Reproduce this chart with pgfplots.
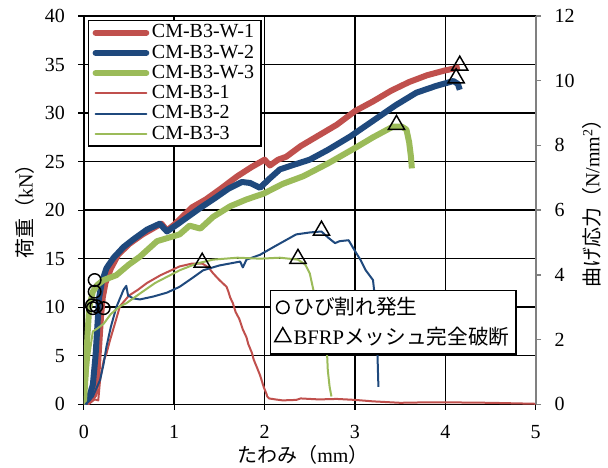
\documentclass[border=0pt]{standalone}
\usepackage{fontspec}
\setmainfont{Liberation Serif}
\newfontfamily\cjk{Noto Sans CJK JP}
\usepackage{pgfplots}
\pgfplotsset{compat=1.18}
\definecolor{cred}{HTML}{C0504D}
\definecolor{cblue}{HTML}{1F497D}
\definecolor{cgreen}{HTML}{9BBB59}
\pgfplotsset{
  common/.style={scale only axis, width=338.9pt, height=291.2pt, at={(0,0)}, anchor=south west,
    xmin=0, xmax=5, /pgf/number format/assume math mode=true},
}
\begin{document}
\fontsize{15}{18}\selectfont
\begin{tikzpicture}[font=\fontsize{15}{18}\selectfont]
\begin{axis}[common,
  ymin=0, ymax=40,
  xtick={0,1,2,3,4,5}, ytick={0,5,...,40},
  axis x line*=bottom, axis y line*=left,
  grid=major, major grid style={black, line width=1.1pt},
  axis line style={black, line width=1.1pt, -},
  tick style={black, line width=0.9pt}, tick align=outside, major tick length=4pt,
  xticklabel style={yshift=-6.5pt},
  yticklabel style={xshift=-5pt},
  every axis x label/.style={at={(axis description cs:0.485,-0.13)}, anchor=center},
  every axis y label/.style={at={(axis description cs:-0.13,0.51)}, rotate=90, anchor=center},
  xlabel={{\cjk たわみ（}mm{\cjk ）}},
  ylabel={{\cjk 荷重（}kN{\cjk ）}},
  legend style={at={(0.009,0.99)}, anchor=north west, draw=black, line width=1.1pt, fill=white,
    font=\fontsize{15}{15}\selectfont, row sep=-1pt, inner xsep=3pt, inner ysep=1pt, cells={anchor=west}},
  legend image code/.code={\draw[#1,line cap=round] (0pt,0pt) -- (38pt,0pt);},
]
% CM-B3-W-1
\addplot[cred, line width=4.5pt, line join=round] coordinates {
(0,0) (0.05,0.3) (0.12,1) (0.15,3) (0.17,6) (0.19,9) (0.21,11) (0.24,12.5) (0.3,14) (0.38,15.4)
(0.5,16.5) (0.65,17.5) (0.8,18.3) (0.86,18.6) (0.92,17.9) (1.0,18.5) (1.1,19.4) (1.2,20.3)
(1.35,21.1) (1.5,22.1) (1.7,23.5) (1.85,24.4) (2.0,25.2) (2.06,24.6) (2.15,25.2) (2.24,25.5)
(2.4,26.6) (2.6,27.7) (2.8,28.8) (3.0,30.2) (3.2,31.2) (3.4,32.3) (3.6,33.2) (3.8,33.9)
(4.0,34.4) (4.16,34.7)};
\addlegendentry{CM-B3-W-1}
% CM-B3-W-2
\addplot[cblue, line width=4.5pt, line join=round] coordinates {
(0,0) (0.05,0.5) (0.1,2) (0.13,5) (0.15,8) (0.17,11) (0.2,12.6) (0.25,14) (0.33,15.1)
(0.44,16.2) (0.55,17) (0.7,18) (0.84,18.6) (0.92,17.8) (1.03,18.5) (1.15,19.3) (1.3,20.3)
(1.43,21.1) (1.6,22.2) (1.75,22.9) (1.84,22.8) (1.95,22.3) (2.05,23.2) (2.17,24.2) (2.3,24.6)
(2.5,25.2) (2.7,26.2) (2.95,27.6) (3.2,29.2) (3.45,30.8) (3.68,32.1) (3.9,32.8) (4.09,33.3)
(4.14,33.0) (4.16,32.4)};
\addlegendentry{CM-B3-W-2}
% CM-B3-W-3
\addplot[cgreen, line width=4.5pt, line join=round] coordinates {
(0,0) (0.02,3) (0.04,7) (0.06,10) (0.1,11.6) (0.15,12.3) (0.22,12.8) (0.36,13.3) (0.5,14.4)
(0.62,15.2) (0.81,16.8) (1.06,17.5) (1.17,18.4) (1.29,18.1) (1.43,19.3) (1.62,20.4)
(1.8,21.1) (1.99,21.7) (2.2,22.7) (2.43,23.5) (2.7,24.8) (3.02,26.5) (3.2,27.5) (3.42,28.6)
(3.52,28.6) (3.57,28.3) (3.6,27.0) (3.62,25.5) (3.63,24.3)};
\addlegendentry{CM-B3-W-3}
% CM-B3-1
\addplot[cred, line width=1.5pt, line join=round] coordinates {
(0.05,0) (0.12,0.5) (0.16,0.4) (0.18,2.5) (0.22,4.5) (0.25,5.2) (0.29,6.6) (0.35,8.5) (0.4,10.1)
(0.5,11.2) (0.6,11.8) (0.7,12.5) (0.85,13.3) (1.06,14.2) (1.2,14.5) (1.31,14.5) (1.38,14.1)
(1.43,13.5) (1.5,12.8) (1.58,12.1) (1.6,11.6) (1.62,11) (1.65,10.4) (1.68,9.5) (1.72,8.8)
(1.76,7.7) (1.8,6.9) (1.82,6.2) (1.86,5.3) (1.88,4.6) (1.92,3.7) (1.95,3.0) (1.97,2.4)
(1.99,1.8) (2.02,1.1) (2.03,0.8) (2.05,0.6) (2.12,0.5) (2.2,0.4) (2.35,0.45) (2.4,0.6)
(2.6,0.5) (2.8,0.55) (3.0,0.45) (3.2,0.3) (3.5,0.15) (3.8,0.2) (4.0,0.2) (4.5,0.15) (5.0,0.05)};
\addlegendentry{CM-B3-1}
% CM-B3-2
\addplot[cblue, line width=1.5pt, line join=round] coordinates {
(0.02,0) (0.1,0.8) (0.18,2.5) (0.22,4.2) (0.25,5.9) (0.3,8) (0.36,10) (0.44,11.8) (0.47,12.2)
(0.49,11.2) (0.55,10.9) (0.62,10.8) (0.77,11.1) (0.92,11.5) (1.06,12.1) (1.2,13) (1.32,13.8)
(1.5,14.3) (1.73,14.7) (1.76,14.1) (1.8,14.9) (1.95,15.4) (2.1,16.2) (2.35,17.5) (2.5,17.7)
(2.63,17.8) (2.7,17.2) (2.78,16.6) (2.83,16.8) (2.93,16.9) (3.0,15.8) (3.06,14.9) (3.12,13.8)
(3.2,12.8) (3.22,11.1) (3.24,8) (3.25,5) (3.26,1.8)};
\addlegendentry{CM-B3-2}
% CM-B3-3
\addplot[cgreen, line width=1.5pt, line join=round] coordinates {
(0,0) (0.03,2) (0.06,5) (0.1,7.5) (0.15,7.8) (0.22,8.3) (0.3,9.3) (0.4,10.1) (0.47,10.4)
(0.62,11.4) (0.79,12.5) (1.06,13.8) (1.25,14.5) (1.43,14.9) (1.7,15.1) (1.95,15.0) (2.17,15.1)
(2.37,14.9) (2.45,14.4) (2.5,13.5) (2.54,11.8) (2.58,10.6) (2.6,9.5) (2.65,7.5) (2.69,5.6)
(2.7,3.5) (2.72,1.8) (2.74,0.8)};
\addlegendentry{CM-B3-3}
\end{axis}
% right axis
\begin{axis}[common,
  ymin=0, ymax=12, ytick={0,2,...,12},
  axis y line*=right, axis x line=none,
  axis line style={gray, line width=1.6pt, -},
  ytick style={gray, line width=1.1pt}, tick align=outside, major tick length=4pt,
  yticklabel style={xshift=5pt},
  every axis y label/.style={at={(axis description cs:1.124,0.53)}, rotate=90, anchor=center},
  ylabel={{\cjk 曲げ応力（}N/mm\textsuperscript{2}{\cjk ）}},
]
\end{axis}
% markers
\begin{axis}[common, ymin=0, ymax=40, hide axis, clip=false,
  legend style={at={(0.412,0.295)}, anchor=north west, draw=black, line width=1.1pt, fill=white,
    font=\fontsize{15.5}{16}\selectfont, row sep=3pt, inner xsep=3pt, inner ysep=3pt, cells={anchor=west}},
]
\addplot[only marks, mark=o, mark size=4.7pt, black, line width=1.1pt] coordinates {
(0.12,12.8) (0.12,11.6) (0.09,10.2) (0.14,10.1) (0.22,9.9) (0.1,9.9)};
\addlegendentry{{\cjk ひび割れ発生}}
\addplot[only marks, mark=triangle, mark size=7pt, black, line width=1.1pt] coordinates {
(4.16,34.9) (4.12,33.6) (3.46,28.8) (1.31,14.6) (2.63,17.9) (2.37,15.0)};
\addlegendentry{BFRP{\cjk メッシュ完全破断}}
\end{axis}
\pgfresetboundingbox
\path (-62.85pt,-47.8pt) rectangle (393.15pt,303.2pt);
\end{tikzpicture}
\end{document}
